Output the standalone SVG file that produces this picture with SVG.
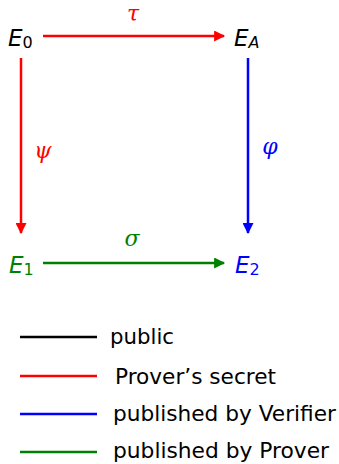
<svg xmlns="http://www.w3.org/2000/svg" width="339" height="464" viewBox="0 0 339 464">
<style>
.n{font-family:"DejaVu Sans","Liberation Sans",sans-serif;font-size:23px;font-style:italic}
.sub{font-size:16px;font-style:normal}
.subi{font-size:16px;font-style:italic}
.g{font-family:"DejaVu Serif","Liberation Serif",serif;font-size:22px;font-style:italic}
.lg{font-family:"DejaVu Sans","Liberation Sans",sans-serif;font-size:21px;fill:#000}
.c{stroke-width:2.5;fill:none}
</style>
<defs>
<marker id="arR" viewBox="0 0 10 10" refX="9" refY="5" markerWidth="13" markerHeight="11" markerUnits="userSpaceOnUse" orient="auto"><path d="M0,0 L10,5 L0,10 z" fill="#f00"/></marker>
<marker id="arB" viewBox="0 0 10 10" refX="9" refY="5" markerWidth="13" markerHeight="11" markerUnits="userSpaceOnUse" orient="auto"><path d="M0,0 L10,5 L0,10 z" fill="#00f"/></marker>
<marker id="arG" viewBox="0 0 10 10" refX="9" refY="5" markerWidth="13" markerHeight="11" markerUnits="userSpaceOnUse" orient="auto"><path d="M0,0 L10,5 L0,10 z" fill="#008000"/></marker>
</defs>
<g id="connectors">
<line class="c" x1="43" y1="36" x2="224" y2="36" stroke="#f00" marker-end="url(#arR)"/>
<line class="c" x1="21" y1="58" x2="21" y2="233" stroke="#f00" marker-end="url(#arR)"/>
<line class="c" x1="248" y1="58" x2="248" y2="233" stroke="#00f" marker-end="url(#arB)"/>
<line class="c" x1="43" y1="263" x2="224" y2="263" stroke="#008000" marker-end="url(#arG)"/>
<text class="g" x="133" y="21" fill="#f00" text-anchor="middle">τ</text>
<text class="g" x="43" y="158" fill="#f00" text-anchor="middle">ψ</text>
<text class="g" x="270" y="154" fill="#00f" text-anchor="middle">φ</text>
<text class="g" x="132" y="246" fill="#008000" text-anchor="middle">σ</text>
</g>
<g id="E0"><text class="n" x="8" y="46" fill="#000">E<tspan class="sub" dy="2">0</tspan></text></g>
<g id="EA"><text class="n" x="234" y="46" fill="#000">E<tspan class="subi" dy="2">A</tspan></text></g>
<g id="E1"><text class="n" x="9" y="273" fill="#008000">E<tspan class="sub" dy="2">1</tspan></text></g>
<g id="E2"><text class="n" x="235" y="273" fill="#00f">E<tspan class="sub" dy="2">2</tspan></text></g>
<g id="legend">
<line x1="20" y1="337" x2="97" y2="337" stroke="#000" stroke-width="2.5"/>
<line x1="20" y1="376" x2="97" y2="376" stroke="#f00" stroke-width="2.5"/>
<line x1="20" y1="414" x2="97" y2="414" stroke="#00f" stroke-width="2.5"/>
<line x1="20" y1="452" x2="97" y2="452" stroke="#008000" stroke-width="2.5"/>
<text class="lg" x="110" y="344" textLength="64" lengthAdjust="spacingAndGlyphs">public</text>
<text class="lg" x="115" y="384" textLength="161" lengthAdjust="spacingAndGlyphs">Prover’s secret</text>
<text class="lg" x="113" y="421" textLength="223" lengthAdjust="spacingAndGlyphs">published by Verifier</text>
<text class="lg" x="113" y="458" textLength="216" lengthAdjust="spacingAndGlyphs">published by Prover</text>
</g>
</svg>
